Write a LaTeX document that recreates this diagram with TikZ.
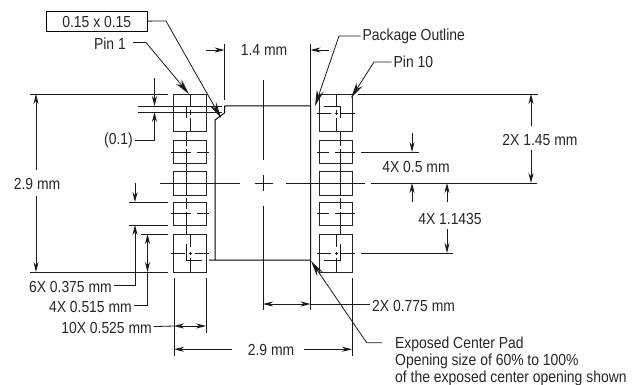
\documentclass[tikz,border=0pt]{standalone}
\usepackage{fontspec}
\setmainfont{Liberation Sans}[FakeStretch=0.87]
\usepackage{tikz}
\usetikzlibrary{arrows.meta}
\tikzset{
  pad/.style={draw, rectangle, line width=0.9pt, black!85, minimum width=33pt, inner sep=0pt, outer sep=0pt},
  lab/.style={font=\fontsize{16}{19}\selectfont, inner sep=2pt, text=black!85},
  thin line/.style={line width=0.8pt, black!90},
  outline/.style={line width=1pt},
  dim/.style={thin line, {Stealth[length=10pt,width=5pt]}-{Stealth[length=10pt,width=5pt]}},
  dimto/.style={thin line, -{Stealth[length=10pt,width=5pt]}},
  leader/.style={thin line, -{Stealth[length=16pt,width=7pt]}}
}
\begin{document}
\begin{tikzpicture}[x=1pt, y=-1pt]
            \useasboundingbox (0,0) rectangle (643,385);

            % left pads
            \node [pad, minimum height=37pt] (padl1) at (190,112.5) {};
            \node [pad, minimum height=23pt] (padl2) at (190,152) {};
            \node [pad, minimum height=24pt] (padl3) at (190,183) {};
            \node [pad, minimum height=23pt] (padl4) at (190,213.5) {};
            \node [pad, minimum height=38pt] (padl5) at (190,253) {};
            % right pads
            \node [pad, minimum height=37pt] (padr1) at (336,112.5) {};
            \node [pad, minimum height=23pt] (padr2) at (336,152) {};
            \node [pad, minimum height=24pt] (padr3) at (336,183) {};
            \node [pad, minimum height=23pt] (padr4) at (336,213.5) {};
            \node [pad, minimum height=38pt] (padr5) at (336,253) {};

            % package outline
            \draw [outline] (224.5,106) -- (310.5,106) (310.5,106) -- (310.5,260) -- (209,260)
                            (215,260) -- (215,120) -- (224.5,113) -- (224.5,106);

            % center lines, left pads
            \draw [thin line] (190,94) -- (190,107) (190,110) -- (190,115) (190,118) -- (190,131);
            \draw [thin line] (186,106) -- (186,118) (186,131) -- (186,146) (186,149) -- (186,171);
            \draw [thin line] (186,171) -- (186,196) (186,198) -- (186,209) (186,212) -- (186,234);
            \draw [thin line] (171,152) -- (191,152) (197,152) -- (209,152);
            \draw [thin line] (171,213.5) -- (191,213.5) (197,213.5) -- (209,213.5);
            \draw [thin line] (190,234) -- (190,247) (190,251.5) -- (190,254.5) (190,258) -- (190,272);
            \draw [thin line] (186,244) -- (186,260) -- (202,260);
            \draw [thin line] (171,253) -- (185,253) (188.5,253) -- (191.5,253) (195,253) -- (209,253);
            % center lines, right pads
            \draw [thin line] (336,94) -- (336,107) (336,110) -- (336,115) (336,118) -- (336,131);
            \draw [thin line] (324,106) -- (340,106) -- (340,118) (340,131) -- (340,146) (340,149) -- (340,171);
            \draw [thin line] (340,171) -- (340,196) (340,198) -- (340,209) (340,212) -- (340,234);
            \draw [thin line] (317,152) -- (329,152) (335,152) -- (355,152);
            \draw [thin line] (317,213.5) -- (329,213.5) (335,213.5) -- (355,213.5);
            \draw [thin line] (317,113) -- (331,113) (334.5,113) -- (337.5,113) (341,113) -- (355,113);
            \draw [thin line] (336,234) -- (336,247) (336,251.5) -- (336,254.5) (336,258) -- (336,272);
            \draw [thin line] (340,244) -- (340,260) -- (324,260);
            \draw [thin line] (317,253) -- (331,253) (334.5,253) -- (337.5,253) (341,253) -- (355,253);
            % center of package
            \draw [thin line] (160,183) -- (240,183) (255,183) -- (273,183) (286,183) -- (365,183);
            \draw [thin line] (263,80) -- (263,160) (263,175) -- (263,191) (263,206) -- (263,310);
            \draw [thin line] (138,106) -- (222,106) (138,112) -- (222,112);

            % extension lines
            \draw [thin line] (30,94) -- (168,94) (358,94) -- (538,94) (30,272) -- (168,272);
            \draw [thin line] (128.5,202) -- (168,202) (128.5,225) -- (168,225) (141,234) -- (168,234);
            \draw [thin line] (224.5,44) -- (224.5,100) (310.5,44) -- (310.5,310);
            \draw [thin line] (174,278) -- (174,356) (206,278) -- (206,333) (352,278) -- (352,356);
            \draw [thin line] (361,152) -- (419,152) (371,183) -- (537,183) (361,253) -- (453,253);

            % dimensions, left
            \node [lab] (dimh) at (37,184) {2.9 mm};
            \coordinate (dimhtop) at (36,94);
            \coordinate (dimhbot) at (36,272);
            \draw [dimto] (36,170) -- (dimhtop);
            \draw [dimto] (36,196) -- (dimhbot);

            \node [lab, anchor=east] (dimp) at (135,140) {(0.1)};
            \coordinate (dimpcor) at (154.5,140);
            \draw [dimto] (dimp) -- (dimpcor) -- (154.5,112);
            \draw [dimto] (154.5,78) -- (154.5,106);

            \node [lab, anchor=east] (dimpitch) at (114,287) {6X 0.375 mm};
            \coordinate (dimpitchcor) at (135,285);
            \draw [dimto] (dimpitch.east |- dimpitchcor) -- (dimpitchcor) -- (135,225);
            \draw [dimto] (135,183) -- (135,202);

            \node [lab, anchor=east] (dimouter) at (134,307) {4X 0.515 mm};
            \coordinate (dimoutercor) at (147.5,305.7);
            \draw [thin line] (dimouter.east |- dimoutercor) -- (dimoutercor) -- (147.5,272);
            \draw [dim] (147.5,234) -- (147.5,272);

            \node [lab, anchor=east] (dimwidth) at (154,328) {10X 0.525 mm};
            \draw [thin line] (dimwidth) -- (174,326);
            \draw [dim] (174,326) -- (206,326);

            \node [lab] (dimwide) at (271,350) {2.9 mm};
            \draw [dimto] (232,349.3) -- (174,349.3);
            \draw [dimto] (304,349.3) -- (352,349.3);

            % dimensions, top
            \node [lab] (dimpad) at (264,50) {1.4 mm};
            \draw [dimto] (206,50) -- (224.5,50);
            \draw [dimto] (329,50) -- (310.5,50);

            % dimensions, right
            \node [lab] (dimhalf) at (540,140) {2X 1.45 mm};
            \draw [dimto] (531,126) -- (531,94);
            \draw [dimto] (531,150) -- (531,183);

            \node [lab] (dimgap) at (416,167) {4X 0.5 mm};
            \draw [dimto] (412,133) -- (412,152);
            \draw [dimto] (412,202) -- (412,183);

            \node [lab] (dimcenter) at (450,219) {4X 1.1435};
            \draw [dimto] (447,202) -- (447,183);
            \draw [dimto] (447,229) -- (447,253);

            \node [lab, anchor=west] (dimside) at (370,306) {2X 0.775 mm};
            \draw [thin line] (310.5,304) -- (dimside.west |- 0,304);
            \draw [dim] (263,304) -- (310.5,304);

            % callouts
            \node [draw, rectangle, lab, minimum width=100.5pt, minimum height=20pt] (chamfer) at (96.75,21.5) {0.15 x 0.15};
            \coordinate (chamfertip) at (221,118);
            \draw [leader] (chamfer) -- (166,21) -- (chamfertip);

            \node [lab, anchor=east] (pinone) at (128,44) {Pin 1};
            \coordinate (pinonetip) at (189,94);
            \draw [leader] (133,42.5) -- (146,42.5) -- (pinonetip);

            \node [lab, anchor=west] (outlinelab) at (360.5,36) {Package Outline};
            \coordinate (outlinetip) at (315,106);
            \draw [leader] (outlinelab) -- (339,36) -- (outlinetip);

            \node [lab, anchor=west] (pinten) at (391.5,62) {Pin 10};
            \coordinate (pintentip) at (351,98);
            \draw [leader] (pinten) -- (374,62) -- (pintentip);

            \node [lab, anchor=north west, align=left, font=\fontsize{16}{17}\selectfont] (exposed) at (393,334.5) {Exposed Center Pad\\Opening size of 60\% to 100\%\\of the exposed center opening shown};
            \coordinate (exposedtip) at (311,261);
            \draw [leader] (382,342.7) -- (366.7,342.7) -- (exposedtip);
          \end{tikzpicture}
\end{document}
